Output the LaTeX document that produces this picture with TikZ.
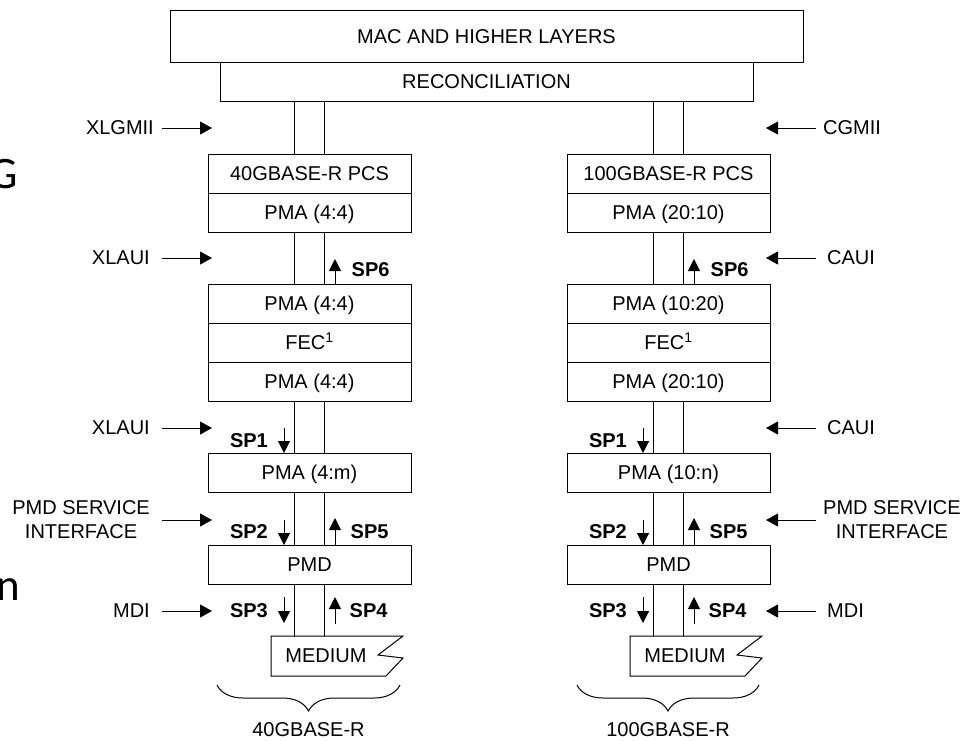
\documentclass[tikz,border=0pt]{standalone}
\usepackage{fontspec}
\setmainfont{Liberation Sans}
\newfontfamily\slidefont{Carlito}
\usetikzlibrary{arrows.meta,positioning,decorations.pathreplacing}
\tikzset{
  layer/.style={draw, line width=1pt, minimum width=203pt, minimum height=39pt, inner sep=0pt, outer sep=0pt, text height=14.5pt, text depth=0pt},
  iface/.style={inner sep=0pt, align=center},
  splbl/.style={inner sep=0pt, font=\fontsize{20}{24}\selectfont\bfseries},
  wire/.style={line width=1pt},
  iarrow/.style={-{Triangle[length=12pt, width=13pt]}, line width=1pt},
  sparrow/.style={-{Triangle[length=12pt, width=12pt]}, line width=1pt},
  brace/.style={decorate, decoration={brace, amplitude=26pt}, line width=1pt},
  frag/.style={anchor=base east, inner sep=0pt, font=\slidefont\fontsize{45}{54}\selectfont}
}

\begin{document}
\begin{tikzpicture}[x=1pt, y=-1pt, font=\fontsize{20}{24}\selectfont]
\useasboundingbox (0,0) rectangle (965,740);

% cut-off slide text on the left
\node[frag] (fragG) at (18,188) {G};
\node[frag] (fragN) at (20,600) {n};

% common layers
\node[layer, minimum width=633pt, minimum height=52pt] (mac) at (486.5,36) {MAC AND HIGHER LAYERS};
\node[layer, minimum width=533pt, below=0pt of mac] (rec) {RECONCILIATION};

% 40GBASE-R stack
\node[layer] (pcsA) at (309.5,173.5) {40GBASE-R PCS};
\node[layer, below=0pt of pcsA] (pmaA1) {PMA (4:4)};
\node[layer, below=52pt of pmaA1] (pmaA2) {PMA (4:4)};
\node[layer, below=0pt of pmaA2] (fecA) {FEC\textsuperscript{1}};
\node[layer, below=0pt of fecA] (pmaA3) {PMA (4:4)};
\node[layer, below=52pt of pmaA3] (pmaA4) {PMA (4:m)};
\node[layer, below=53pt of pmaA4] (pmdA) {PMD};
\node[inner sep=0pt] (medA) at (326,656) {MEDIUM};
\coordinate (medTopA) at (271,636);
\draw[wire] (medTopA) -- (403,636) -- (378,655) -- (403,658) -- (386,676) -- (271,676) -- cycle;

% 100GBASE-R stack
\node[layer] (pcsB) at (668.5,173.5) {100GBASE-R PCS};
\node[layer, below=0pt of pcsB] (pmaB1) {PMA (20:10)};
\node[layer, below=52pt of pmaB1] (pmaB2) {PMA (10:20)};
\node[layer, below=0pt of pmaB2] (fecB) {FEC\textsuperscript{1}};
\node[layer, below=0pt of fecB] (pmaB3) {PMA (20:10)};
\node[layer, below=52pt of pmaB3] (pmaB4) {PMA (10:n)};
\node[layer, below=53pt of pmaB4] (pmdB) {PMD};
\node[inner sep=0pt] (medB) at (685,656) {MEDIUM};
\coordinate (medTopB) at (630,636);
\draw[wire] (medTopB) -- (762,636) -- (737,655) -- (762,658) -- (745,676) -- (630,676) -- cycle;

% wire pairs between the layers
\draw[wire] ([xshift=-15pt]pcsA.north) -- ([xshift=-15pt]pcsA.north |- rec.south)
            ([xshift=15pt]pcsA.north) -- ([xshift=15pt]pcsA.north |- rec.south);
\draw[wire] ([xshift=-15pt]pmaA1.south) -- ([xshift=-15pt]pmaA2.north)
            ([xshift=15pt]pmaA1.south) -- ([xshift=15pt]pmaA2.north);
\draw[wire] ([xshift=-15pt]pmaA3.south) -- ([xshift=-15pt]pmaA4.north)
            ([xshift=15pt]pmaA3.south) -- ([xshift=15pt]pmaA4.north);
\draw[wire] ([xshift=-15pt]pmaA4.south) -- ([xshift=-15pt]pmdA.north)
            ([xshift=15pt]pmaA4.south) -- ([xshift=15pt]pmdA.north);
\draw[wire] ([xshift=-15pt]pmdA.south) -- ([xshift=-15pt]pmdA.south |- medTopA)
            ([xshift=15pt]pmdA.south) -- ([xshift=15pt]pmdA.south |- medTopA);

\draw[wire] ([xshift=-15pt]pcsB.north) -- ([xshift=-15pt]pcsB.north |- rec.south)
            ([xshift=15pt]pcsB.north) -- ([xshift=15pt]pcsB.north |- rec.south);
\draw[wire] ([xshift=-15pt]pmaB1.south) -- ([xshift=-15pt]pmaB2.north)
            ([xshift=15pt]pmaB1.south) -- ([xshift=15pt]pmaB2.north);
\draw[wire] ([xshift=-15pt]pmaB3.south) -- ([xshift=-15pt]pmaB4.north)
            ([xshift=15pt]pmaB3.south) -- ([xshift=15pt]pmaB4.north);
\draw[wire] ([xshift=-15pt]pmaB4.south) -- ([xshift=-15pt]pmdB.north)
            ([xshift=15pt]pmaB4.south) -- ([xshift=15pt]pmdB.north);
\draw[wire] ([xshift=-15pt]pmdB.south) -- ([xshift=-15pt]pmdB.south |- medTopB)
            ([xshift=15pt]pmdB.south) -- ([xshift=15pt]pmdB.south |- medTopB);

% service points, 40G
\draw[sparrow] ([xshift=25.5pt]pmaA2.north) -- ++(0pt,25pt);
\node[splbl, anchor=west] (sp6A) at ([xshift=42pt,yshift=14pt]pmaA2.north) {SP6};
\draw[sparrow] ([xshift=-25.5pt,yshift=25pt]pmaA4.north) -- ([xshift=-25.5pt]pmaA4.north);
\node[splbl, anchor=east] (sp1A) at ([xshift=-41.5pt,yshift=12pt]pmaA4.north) {SP1};
\draw[sparrow] ([xshift=-25.5pt,yshift=25pt]pmdA.north) -- ([xshift=-25.5pt]pmdA.north);
\node[splbl, anchor=east] (sp2A) at ([xshift=-41.5pt,yshift=13pt]pmdA.north) {SP2};
\draw[sparrow] ([xshift=25.5pt]pmdA.north) -- ++(0pt,27pt);
\node[splbl, anchor=west] (sp5A) at ([xshift=41pt,yshift=13pt]pmdA.north) {SP5};
\draw[sparrow] ([xshift=-25.5pt,yshift=-13pt]pmdA.south) -- ++(0pt,-26pt);
\node[splbl, anchor=east] (sp3A) at ([xshift=-41.5pt,yshift=-27pt]pmdA.south) {SP3};
\draw[sparrow] ([xshift=25.5pt,yshift=-40pt]pmdA.south) -- ++(0pt,27pt);
\node[splbl, anchor=west] (sp4A) at ([xshift=40pt,yshift=-27pt]pmdA.south) {SP4};

% service points, 100G
\draw[sparrow] ([xshift=25.5pt]pmaB2.north) -- ++(0pt,25pt);
\node[splbl, anchor=west] (sp6B) at ([xshift=42pt,yshift=14pt]pmaB2.north) {SP6};
\draw[sparrow] ([xshift=-25.5pt,yshift=25pt]pmaB4.north) -- ([xshift=-25.5pt]pmaB4.north);
\node[splbl, anchor=east] (sp1B) at ([xshift=-41.5pt,yshift=12pt]pmaB4.north) {SP1};
\draw[sparrow] ([xshift=-25.5pt,yshift=25pt]pmdB.north) -- ([xshift=-25.5pt]pmdB.north);
\node[splbl, anchor=east] (sp2B) at ([xshift=-41.5pt,yshift=13pt]pmdB.north) {SP2};
\draw[sparrow] ([xshift=25.5pt]pmdB.north) -- ++(0pt,27pt);
\node[splbl, anchor=west] (sp5B) at ([xshift=41pt,yshift=13pt]pmdB.north) {SP5};
\draw[sparrow] ([xshift=-25.5pt,yshift=-13pt]pmdB.south) -- ++(0pt,-26pt);
\node[splbl, anchor=east] (sp3B) at ([xshift=-41.5pt,yshift=-27pt]pmdB.south) {SP3};
\draw[sparrow] ([xshift=25.5pt,yshift=-40pt]pmdB.south) -- ++(0pt,27pt);
\node[splbl, anchor=west] (sp4B) at ([xshift=40pt,yshift=-27pt]pmdB.south) {SP4};

% interfaces, left side
\node[iface, anchor=east] (xlgmii) at (154,128) {XLGMII};
\coordinate (xlgmiiTip) at (212,128);
\draw[iarrow, shorten <=8pt] (xlgmii.east) -- (xlgmiiTip);
\node[iface, anchor=east] (xlauiA) at (150,258) {XLAUI};
\coordinate (xlauiATip) at (212,258);
\draw[iarrow, shorten <=12pt] (xlauiA.east) -- (xlauiATip);
\node[iface, anchor=east] (xlauiB) at (150,428) {XLAUI};
\coordinate (xlauiBTip) at (212,428);
\draw[iarrow, shorten <=12pt] (xlauiB.east) -- (xlauiBTip);
\node[iface, anchor=east] (pmdsiA) at (150,520) {PMD SERVICE\\INTERFACE};
\coordinate (pmdsiATip) at (212,520);
\draw[iarrow, shorten <=12pt] (pmdsiA.east) -- (pmdsiATip);
\node[iface, anchor=east] (mdiA) at (150,611) {MDI};
\coordinate (mdiATip) at (212,611);
\draw[iarrow, shorten <=12pt] (mdiA.east) -- (mdiATip);

% interfaces, right side
\node[iface, anchor=west] (cgmii) at (823,128) {CGMII};
\coordinate (cgmiiTip) at (766,128);
\draw[iarrow, shorten <=7pt] (cgmii.west) -- (cgmiiTip);
\node[iface, anchor=west] (cauiA) at (827,258) {CAUI};
\coordinate (cauiATip) at (766,258);
\draw[iarrow, shorten <=11pt] (cauiA.west) -- (cauiATip);
\node[iface, anchor=west] (cauiB) at (827,428) {CAUI};
\coordinate (cauiBTip) at (766,428);
\draw[iarrow, shorten <=11pt] (cauiB.west) -- (cauiBTip);
\node[iface, anchor=west] (pmdsiB) at (823,520) {PMD SERVICE\\INTERFACE};
\coordinate (pmdsiBTip) at (766,520);
\draw[iarrow, shorten <=7pt] (pmdsiB.west) -- (pmdsiBTip);
\node[iface, anchor=west] (mdiB) at (827,611) {MDI};
\coordinate (mdiBTip) at (766,611);
\draw[iarrow, shorten <=11pt] (mdiB.west) -- (mdiBTip);

% braces
\draw[brace] (400,685) -- (217,685);
\node (labA) at (308.5,730) {40GBASE-R};
\draw[brace] (759,685) -- (577,685);
\node (labB) at (668,730) {100GBASE-R};
\end{tikzpicture}
\end{document}
